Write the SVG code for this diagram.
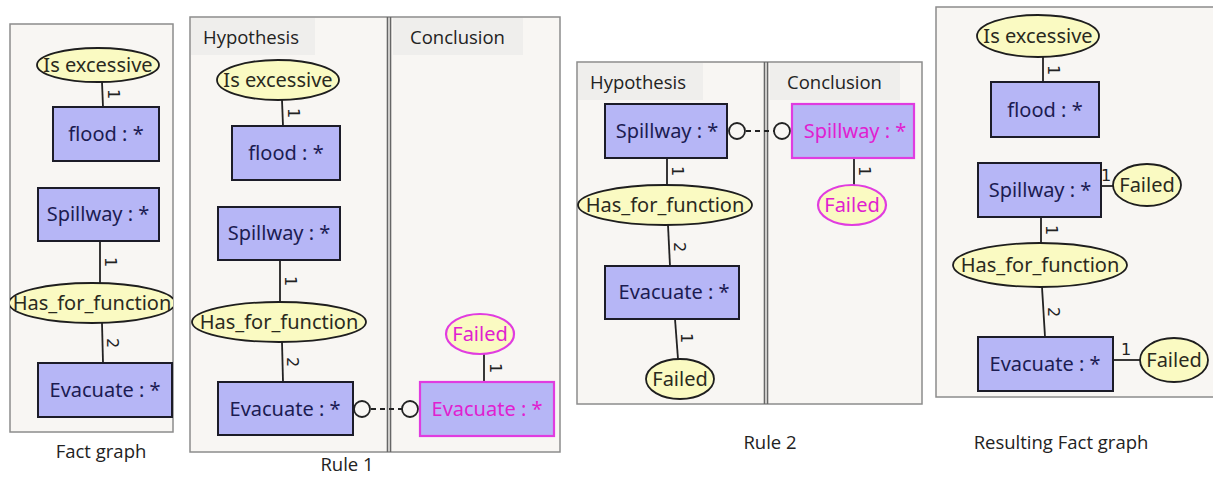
<svg xmlns="http://www.w3.org/2000/svg" width="1213" height="477" viewBox="0 0 1213 477">
<style>
.bg{fill:#ffffff}
.panel{fill:#f8f6f3;stroke:#8c8c8c;stroke-width:1.5}
.band{fill:#efeeec}
.box{fill:#b6b6f6;stroke:#1c1c28;stroke-width:2}
.mbox{fill:#b6b6f6;stroke:#e03ce0;stroke-width:2.2}
.rel{fill:#fafac2;stroke:#1e1e1e;stroke-width:1.8}
.mrel{fill:#fafac2;stroke:#e03ce0;stroke-width:2.2}
.t{font-family:"Noto Sans","DejaVu Sans",sans-serif;font-size:20px;fill:#1c1c52;text-anchor:middle}
.tr{fill:#2a2a1e}
.tm{fill:#e020d0}
.lbl{font-family:"DejaVu Sans",sans-serif;font-size:16px;fill:#222;text-anchor:middle;dominant-baseline:central}
.cap{font-family:"Open Sans",sans-serif;font-size:18.5px;fill:#222}
.capc{text-anchor:middle}
.edge{stroke:#222;stroke-width:1.8;fill:none}
.div{stroke:#666;stroke-width:1.6}
.cr{fill:none;stroke:#222;stroke-width:1.8}
.dash{stroke:#222;stroke-width:1.8;stroke-dasharray:5,4}
</style>
<defs>
<clipPath id="c1"><rect x="10" y="24" width="163" height="408"/></clipPath>
</defs>
<rect class="bg" x="0" y="0" width="1213" height="477"/>

<!-- Panel 1: Fact graph -->
<g id="panel-fact">
<rect class="panel" x="10" y="24" width="163" height="408"/>
<text class="cap capc" x="101" y="458">Fact graph</text>
</g>
<g clip-path="url(#c1)">
<g id="connectors-fact">
<line class="edge" x1="102" y1="82" x2="103" y2="107"/>
<text class="lbl" transform="rotate(90 113 94)" x="113" y="94">1</text>
<line class="edge" x1="100" y1="241" x2="100" y2="283"/>
<text class="lbl" transform="rotate(90 110 262)" x="110" y="262">1</text>
<line class="edge" x1="102" y1="323" x2="103" y2="363"/>
<text class="lbl" transform="rotate(90 112 343)" x="112" y="343">2</text>
</g>
<g id="f-excessive"><ellipse class="rel" cx="98" cy="65" rx="61" ry="17"/><text class="t tr" x="98" y="72">Is excessive</text></g>
<g id="f-flood"><rect class="box" x="53" y="107" width="106" height="54"/><text class="t" x="106" y="141">flood : *</text></g>
<g id="f-spillway"><rect class="box" x="38" y="188" width="121" height="53"/><text class="t" x="98" y="221">Spillway : *</text></g>
<g id="f-hasfor"><ellipse class="rel" cx="92" cy="303" rx="83" ry="20"/><text class="t tr" x="92" y="310">Has_for_function</text></g>
<g id="f-evacuate"><rect class="box" x="38" y="363" width="134" height="54"/><text class="t" x="105" y="397">Evacuate : *</text></g>
</g>

<!-- Panel 2: Rule 1 -->
<g id="panel-rule1">
<rect class="panel" x="190" y="17" width="370" height="435"/>
<rect class="band" x="191" y="18" width="124" height="37"/>
<rect class="band" x="393" y="18" width="130" height="37"/>
<line class="div" x1="387.5" y1="17" x2="387.5" y2="452"/>
<line class="div" x1="390.5" y1="17" x2="390.5" y2="452"/>
<text class="cap" x="203" y="44">Hypothesis</text>
<text class="cap" x="410" y="44">Conclusion</text>
<text class="cap capc" x="347" y="471">Rule 1</text>
</g>
<g id="connectors-rule1">
<line class="edge" x1="282" y1="100" x2="283" y2="126"/>
<text class="lbl" transform="rotate(90 293 113)" x="293" y="113">1</text>
<line class="edge" x1="280" y1="260" x2="280" y2="302"/>
<text class="lbl" transform="rotate(90 290 281)" x="290" y="281">1</text>
<line class="edge" x1="282" y1="342" x2="283" y2="382"/>
<text class="lbl" transform="rotate(90 292 362)" x="292" y="362">2</text>
<line class="edge" x1="484" y1="354" x2="484" y2="382"/>
<text class="lbl" transform="rotate(90 495 368)" x="495" y="368">1</text>
<circle class="cr" cx="362" cy="409" r="8"/>
<line class="dash" x1="371" y1="409" x2="402" y2="409"/>
<circle class="cr" cx="410" cy="409" r="8"/>
</g>
<g id="r1-excessive"><ellipse class="rel" cx="278" cy="80" rx="61" ry="20"/><text class="t tr" x="278" y="87">Is excessive</text></g>
<g id="r1-flood"><rect class="box" x="232" y="126" width="108" height="54"/><text class="t" x="286" y="160">flood : *</text></g>
<g id="r1-spillway"><rect class="box" x="218" y="207" width="122" height="53"/><text class="t" x="279" y="240">Spillway : *</text></g>
<g id="r1-hasfor"><ellipse class="rel" cx="279" cy="322" rx="87" ry="20"/><text class="t tr" x="279" y="329">Has_for_function</text></g>
<g id="r1-evacuate"><rect class="box" x="218" y="382" width="135" height="53"/><text class="t" x="285" y="416">Evacuate : *</text></g>
<g id="r1-c-failed"><ellipse class="mrel" cx="480" cy="334" rx="34" ry="20"/><text class="t tm" x="480" y="341">Failed</text></g>
<g id="r1-c-evacuate"><rect class="mbox" x="420" y="382" width="134" height="54"/><text class="t tm" x="487" y="416">Evacuate : *</text></g>

<!-- Panel 3: Rule 2 -->
<g id="panel-rule2">
<rect class="panel" x="577" y="62" width="345" height="342"/>
<rect class="band" x="578" y="63" width="125" height="37"/>
<rect class="band" x="770" y="63" width="130" height="37"/>
<line class="div" x1="764.5" y1="62" x2="764.5" y2="404"/>
<line class="div" x1="767.5" y1="62" x2="767.5" y2="404"/>
<text class="cap" x="590" y="89">Hypothesis</text>
<text class="cap" x="787" y="89">Conclusion</text>
<text class="cap capc" x="770" y="449">Rule 2</text>
</g>
<g id="connectors-rule2">
<line class="edge" x1="667" y1="158" x2="667" y2="185"/>
<text class="lbl" transform="rotate(90 677 171)" x="677" y="171">1</text>
<line class="edge" x1="668" y1="225" x2="670" y2="266"/>
<text class="lbl" transform="rotate(90 679 247)" x="679" y="247">2</text>
<line class="edge" x1="675" y1="319" x2="678" y2="359"/>
<text class="lbl" transform="rotate(90 686 338)" x="686" y="338">1</text>
<line class="edge" x1="854" y1="158" x2="854" y2="185"/>
<text class="lbl" transform="rotate(90 864 171)" x="864" y="171">1</text>
<circle class="cr" cx="737" cy="131" r="8"/>
<line class="dash" x1="746" y1="131" x2="774" y2="131"/>
<circle class="cr" cx="782" cy="131" r="8"/>
</g>
<g id="r2-spillway"><rect class="box" x="605" y="104" width="122" height="54"/><text class="t" x="667" y="138">Spillway : *</text></g>
<g id="r2-hasfor"><ellipse class="rel" cx="665" cy="205" rx="87" ry="20"/><text class="t tr" x="665" y="212">Has_for_function</text></g>
<g id="r2-evacuate"><rect class="box" x="605" y="266" width="134" height="53"/><text class="t" x="674" y="299">Evacuate : *</text></g>
<g id="r2-failed"><ellipse class="rel" cx="680" cy="379" rx="34" ry="20"/><text class="t tr" x="680" y="386">Failed</text></g>
<g id="r2-c-spillway"><rect class="mbox" x="792" y="104" width="122" height="54"/><text class="t tm" x="855" y="138">Spillway : *</text></g>
<g id="r2-c-failed"><ellipse class="mrel" cx="852" cy="205" rx="34" ry="20"/><text class="t tm" x="852" y="212">Failed</text></g>

<!-- Panel 4: Resulting Fact graph -->
<g id="panel-result">
<rect class="panel" x="936" y="7" width="290" height="390"/>
<text class="cap capc" x="1061" y="449">Resulting Fact graph</text>
</g>
<g id="connectors-result">
<line class="edge" x1="1043" y1="57" x2="1043" y2="82"/>
<text class="lbl" transform="rotate(90 1053 70)" x="1053" y="70">1</text>
<line class="edge" x1="1101" y1="186" x2="1113" y2="186"/>
<text class="lbl" x="1106" y="175">1</text>
<line class="edge" x1="1041" y1="217" x2="1041" y2="243"/>
<text class="lbl" transform="rotate(90 1051 230)" x="1051" y="230">1</text>
<line class="edge" x1="1042" y1="287" x2="1045" y2="337"/>
<text class="lbl" transform="rotate(90 1053 312)" x="1053" y="312">2</text>
<line class="edge" x1="1113" y1="360" x2="1140" y2="360"/>
<text class="lbl" x="1126" y="349">1</text>
</g>
<g id="res-excessive"><ellipse class="rel" cx="1038" cy="36" rx="61" ry="21"/><text class="t tr" x="1038" y="43">Is excessive</text></g>
<g id="res-flood"><rect class="box" x="991" y="82" width="108" height="55"/><text class="t" x="1045" y="117">flood : *</text></g>
<g id="res-spillway"><rect class="box" x="978" y="163" width="123" height="54"/><text class="t" x="1040" y="197">Spillway : *</text></g>
<g id="res-failed1"><ellipse class="rel" cx="1147" cy="185" rx="34" ry="21"/><text class="t tr" x="1147" y="192">Failed</text></g>
<g id="res-hasfor"><ellipse class="rel" cx="1040" cy="265" rx="87" ry="22"/><text class="t tr" x="1040" y="272">Has_for_function</text></g>
<g id="res-evacuate"><rect class="box" x="978" y="337" width="135" height="54"/><text class="t" x="1045" y="371">Evacuate : *</text></g>
<g id="res-failed2"><ellipse class="rel" cx="1174" cy="360" rx="34" ry="22"/><text class="t tr" x="1174" y="367">Failed</text></g>
</svg>
